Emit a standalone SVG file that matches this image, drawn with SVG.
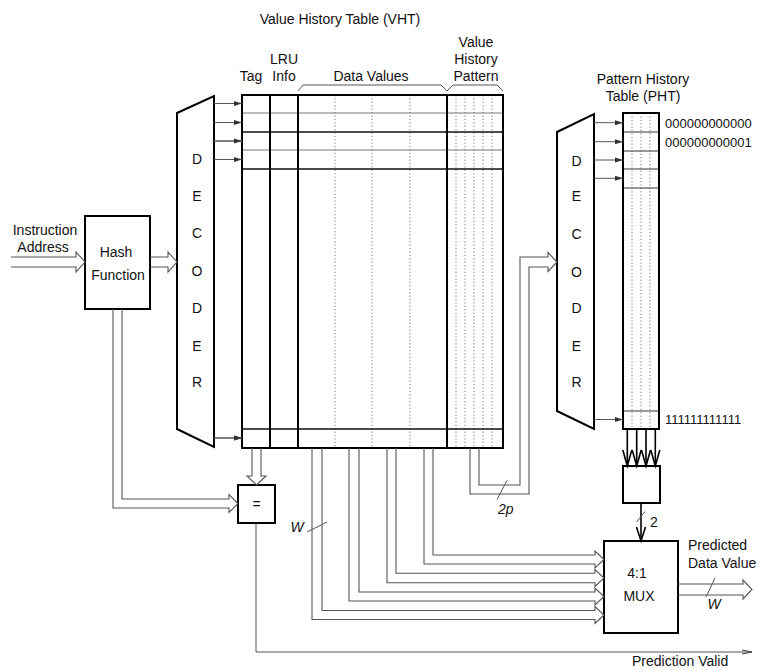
<svg xmlns="http://www.w3.org/2000/svg" width="760" height="670" viewBox="0 0 760 670">
<style>
text{font-family:"Liberation Sans",Arial,sans-serif;font-size:14px;fill:#111}
.c{text-anchor:middle}
.it{font-style:italic}
.dig{font-size:13px}
.box{fill:#fff;stroke:#000;stroke-width:2}
.thin{fill:none;stroke:#555;stroke-width:1}
.bus{fill:none;stroke:#555;stroke-width:1.1}
.dot{fill:none;stroke:#777;stroke-width:1;stroke-dasharray:1.2 2.2}
.thick{fill:none;stroke:#000;stroke-width:2}
.row1{stroke:#777;stroke-width:1}
.row2{stroke:#111;stroke-width:1.4}
.v{fill:none;stroke:#000;stroke-width:1.6}
</style>
<defs>
<marker id="ah" markerWidth="8" markerHeight="6" refX="8" refY="3" orient="auto" markerUnits="userSpaceOnUse">
<path d="M0,0.5 L8,3 L0,5.5 z" fill="#333"/>
</marker>
<marker id="ah2" markerWidth="10" markerHeight="6" refX="10" refY="3" orient="auto" markerUnits="userSpaceOnUse">
<path d="M0,1 L10,3 L0,5" fill="none" stroke="#444" stroke-width="1"/>
</marker>
</defs>
<rect width="760" height="670" fill="#fff"/>

<g id="labels">
<text x="340" y="24" class="c">Value History Table (VHT)</text>
<text x="251" y="81" class="c">Tag</text>
<text x="284" y="64" class="c">LRU</text>
<text x="284" y="81" class="c">Info</text>
<text x="371" y="81" class="c">Data Values</text>
<text x="476" y="47" class="c">Value</text>
<text x="476" y="64" class="c">History</text>
<text x="476" y="81" class="c">Pattern</text>
<path d="M298,91 L303,85 H441 L447,91 L453,85 H497 L503,91" class="thin"/>
<text x="643" y="84" class="c">Pattern History</text>
<text x="643" y="101" class="c">Table (PHT)</text>
<text x="45" y="235" class="c">Instruction</text>
<text x="43" y="252" class="c">Address</text>
</g>

<g id="vht">
<rect x="242" y="95" width="261" height="353" fill="#fff"/>
<path d="M335,95 V448 M372,95 V448 M410,95 V448 M456,95 V448 M465,95 V448 M474,95 V448 M483,95 V448 M492,95 V448" class="dot"/>
<path d="M242,113 H503 M242,150 H503" class="row1"/>
<path d="M242,132 H503 M242,169 H503 M242,429 H503" class="row2"/>
<path d="M270,95 V448 M298,95 V448 M447,95 V448" class="thick"/>
<rect x="242" y="95" width="261" height="353" fill="none" stroke="#000" stroke-width="2"/>
</g>

<g id="left-decoder">
<polygon points="177,113 214,96 214,447 177,429" class="box"/>
<text x="197" y="164" class="c">D</text>
<text x="197" y="201" class="c">E</text>
<text x="197" y="238" class="c">C</text>
<text x="197" y="276" class="c">O</text>
<text x="197" y="313" class="c">D</text>
<text x="197" y="351" class="c">E</text>
<text x="197" y="387" class="c">R</text>
</g>

<g id="hash-function">
<rect x="85" y="216" width="65" height="93" class="box"/>
<text x="116" y="257" class="c">Hash</text>
<text x="118" y="280" class="c">Function</text>
</g>

<g id="compare">
<rect x="238" y="485" width="37" height="38" class="box"/>
<text x="256.5" y="509" class="c">=</text>
</g>

<g id="pht-decoder">
<polygon points="557,132 594,114 594,429 557,411" class="box"/>
<text x="576.5" y="166" class="c">D</text>
<text x="576.5" y="201" class="c">E</text>
<text x="576.5" y="239" class="c">C</text>
<text x="576.5" y="277" class="c">O</text>
<text x="576.5" y="313" class="c">D</text>
<text x="576.5" y="351" class="c">E</text>
<text x="576.5" y="387" class="c">R</text>
</g>

<g id="pht">
<rect x="623" y="113" width="36" height="316" fill="#fff"/>
<path d="M632,113 V429 M641,113 V429 M650,113 V429" class="dot"/>
<path d="M623,132 H659 M623,151 H659 M623,169 H659 M623,188 H659 M623,411 H659" stroke="#333" stroke-width="1"/>
<rect x="623" y="113" width="36" height="316" fill="none" stroke="#000" stroke-width="2"/>
<text x="665" y="128" class="dig">000000000000</text>
<text x="665" y="147" class="dig">000000000001</text>
<text x="665" y="424" class="dig">111111111111</text>
</g>

<g id="pht-select">
<rect x="623" y="466" width="37" height="37" class="box"/>
</g>

<g id="mux">
<rect x="604" y="541" width="74" height="92" class="box"/>
<text x="637" y="578" class="c">4:1</text>
<text x="639" y="601" class="c">MUX</text>
<text x="688" y="550">Predicted</text>
<text x="688" y="568">Data Value</text>
</g>

<g id="connectors">
<!-- decoder to VHT rows -->
<path d="M214,103.5 H242 M214,122.5 H242 M214,141 H242 M214,159.5 H242 M214,438 H242" class="thin" marker-end="url(#ah)"/>
<path d="M214,103.5 H242" class="thin" marker-end="url(#ah)"/>
<path d="M214,122.5 H242" class="thin" marker-end="url(#ah)"/>
<path d="M214,141 H242" class="thin" marker-end="url(#ah)"/>
<path d="M214,159.5 H242" class="thin" marker-end="url(#ah)"/>
<path d="M214,438 H242" class="thin" marker-end="url(#ah)"/>
<!-- PHT decoder to PHT rows -->
<path d="M594,122.7 H623" class="thin" marker-end="url(#ah)"/>
<path d="M594,141.7 H623" class="thin" marker-end="url(#ah)"/>
<path d="M594,160 H623" class="thin" marker-end="url(#ah)"/>
<path d="M594,178.3 H623" class="thin" marker-end="url(#ah)"/>
<path d="M594,419.5 H623" class="thin" marker-end="url(#ah)"/>
<!-- instruction address -->
<path d="M11,257 H76 V252 L85,262 L76,272 V267 H11" class="bus"/>
<!-- hash to decoder -->
<path d="M150,257 H168 V252 L177,262 L168,272 V267 H150" class="bus"/>
<!-- hash to compare -->
<path d="M122,309 V499 H229 V494.5 L238,503.5 L229,512.5 V508 H113 V309" class="bus"/>
<!-- tag to compare -->
<path d="M252,448 V476 H247 L256.5,485 L266,476 H261 V448" class="bus"/>
<!-- compare to prediction valid -->
<path d="M256,523 V652 H752" class="thin" marker-end="url(#ah2)"/>
<text x="632" y="666">Prediction Valid</text>
<!-- data values to MUX -->
<path d="M433,448 V555 H595 V551 L604,559.5 L595,568 V564 H424 V448" class="bus"/>
<path d="M396,448 V573.3 H595 V569.5 L604,578 L595,586.5 V582.7 H387 V448" class="bus"/>
<path d="M359,448 V592 H595 V588 L604,596.5 L595,605 V601 H349 V448" class="bus"/>
<path d="M322,448 V610.5 H595 V606.5 L604,615 L595,623.5 V619.5 H312 V448" class="bus"/>
<path d="M307,532 L327,522" class="thin"/>
<text x="297" y="531.5" class="c it">W</text>
<!-- VHP to PHT decoder -->
<path d="M479,448 V485 H520 V257 H548 V252.5 L557,262 L548,271.5 V267 H529 V494 H470 V448" class="bus"/>
<path d="M497,499.5 L507,480.5" class="thin"/>
<text x="498" y="513.5" class="it">2p</text>
<!-- PHT to select -->
<path d="M627.3,429 V465 M636.7,429 V465 M646,429 V465 M655.3,429 V465" class="v"/>
<path d="M622.8,450 L627.3,466 L631.8,450 M632.2,450 L636.7,466 L641.2,450 M641.5,450 L646,466 L650.5,450 M650.8,450 L655.3,466 L659.8,450" class="v"/>
<!-- select to MUX -->
<path d="M641,503 V540" class="v"/>
<path d="M636.5,527 L641,541 L645.5,527" class="v"/>
<path d="M636.5,522 L645,511.5" class="thin"/>
<text x="650" y="527">2</text>
<!-- MUX output -->
<path d="M678,584 H743 V580 L752,589.5 L743,599 V595 H678" class="bus"/>
<path d="M706,597 L715,578" class="thin"/>
<text x="714" y="609" class="c it">W</text>
</g>
</svg>
